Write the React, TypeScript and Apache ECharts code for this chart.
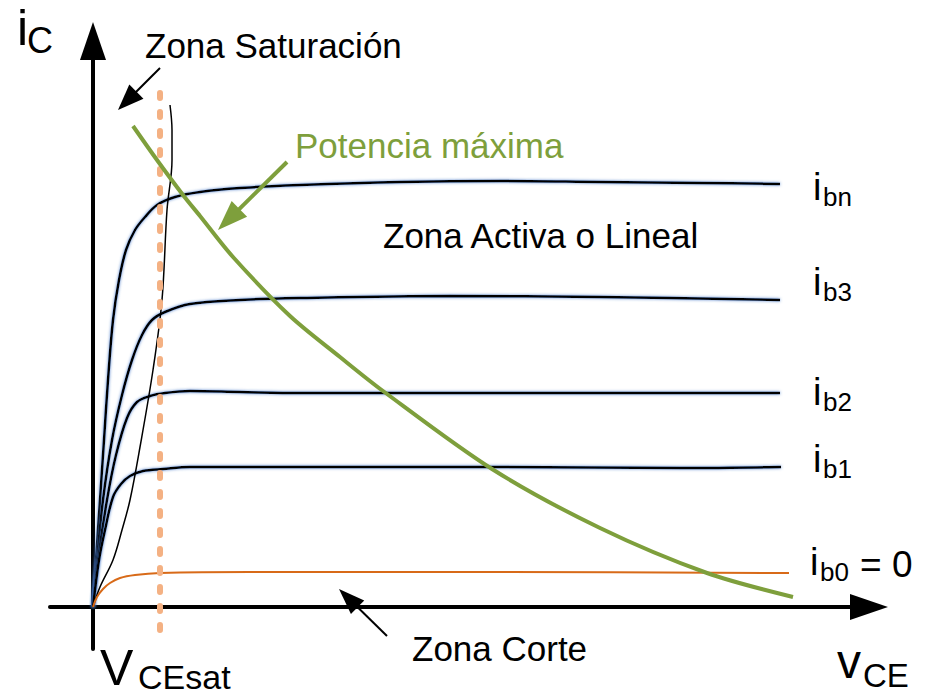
import React, { useEffect, useRef } from "react";
import * as echarts from "echarts";

// Data in arbitrary units (vCE along x, iC along y), origin at the axes' crossing
const ibn = [[0,0],[3,47],[7,107],[11,167],[15,227],[20,287],[26,327],[33,357],[42,377],[52,390],[64,402],[82,410],[107,415],[147,419],[207,422],[307,425],[407,426],[507,425],[607,424],[687,423]];
const ib3 = [[0,0],[4,47],[10,107],[19,167],[29,212],[39,247],[49,272],[59,287],[72,295],[97,303],[147,307],[207,309],[357,311],[507,310],[687,307]];
const ib2 = [[0,0],[5,47],[14,107],[23,152],[34,189],[44,205],[57,211],[72,214],[97,216],[147,215],[207,214],[407,214],[687,214]];
const ib1 = [[0,0],[6,47],[12,77],[20,110],[28,123],[37,131],[50,136],[70,138],[97,140],[207,140],[407,140],[587,139],[688,140]];
const ib0 = [[0,0],[4,10],[10,18],[17,24],[27,29],[42,32],[67,34],[157,35],[407,35],[696,34]];
const satLimit = [[0,0],[7,20],[20,47],[29,77],[37,107],[47,160],[60,237],[69,307],[74,397],[79,447],[79,477],[77,502]];
const maxPower = [[40,481],[64,447],[90,412],[107,391],[140,350],[197,291],[247,250],[290,216],[399,138],[507,79],[614,34],[700,10]];
const vceSat = 67;
const vceSatSpan = [-23, 525];
const xRange = [-43, 776];
const yRange = [-42, 566];

const FONT = "'Liberation Sans', Arial, Helvetica, sans-serif";
const GREEN = "#7E9F3C";

function txt(text: string, x: number, baseline: number, size: number, color = "#000") {
  return {
    type: "text",
    x,
    y: baseline - size * 0.35,
    z: 100,
    style: {
      text,
      x: 0,
      y: 0,
      fill: color,
      fontSize: size,
      lineHeight: size,
      fontFamily: FONT,
      align: "left",
      textAlign: "left",
      verticalAlign: "middle",
      textVerticalAlign: "middle",
    },
  };
}

function arrow(x1: number, y1: number, x2: number, y2: number, len: number, w: number, color: string, lw: number) {
  const dx = x2 - x1, dy = y2 - y1;
  const d = Math.hypot(dx, dy);
  const ux = dx / d, uy = dy / d;
  const bx = x2 - ux * len, by = y2 - uy * len;
  const px = -uy, py = ux;
  return [
    { type: "line", z: 100, shape: { x1, y1, x2: bx + ux * 2, y2: by + uy * 2 }, style: { stroke: color, lineWidth: lw } },
    {
      type: "polygon",
      z: 100,
      shape: { points: [[x2, y2], [bx + (px * w) / 2, by + (py * w) / 2], [bx - (px * w) / 2, by - (py * w) / 2]] },
      style: { fill: color },
    },
  ];
}

function curve(name: string, data: number[][], color: string, width: number, glow: boolean, z: number, smooth = 0.35) {
  return {
    type: "line",
    name,
    data,
    smooth,
    symbol: "none",
    z,
    lineStyle: glow
      ? { color, width, shadowColor: "rgba(70,120,200,0.9)", shadowBlur: 3 }
      : { color, width },
  };
}

export default function App() {
  const ref = useRef<HTMLDivElement>(null);
  useEffect(() => {
    if (!ref.current) return;
    const chart = echarts.init(ref.current, null, { renderer: "svg" });
    const axisCommon = {
      type: "value",
      axisTick: { show: false },
      axisLabel: { show: false },
      splitLine: { show: false },
    };
    chart.setOption({
      animation: false,
      backgroundColor: "#fff",
      grid: { left: 50, right: 59, top: 41, bottom: 48 },
      xAxis: {
        ...axisCommon,
        min: xRange[0],
        max: xRange[1],
        axisLine: { show: true, onZero: true, symbol: ["none", "triangle"], symbolSize: [26, 38], lineStyle: { color: "#000", width: 4 } },
      },
      yAxis: {
        ...axisCommon,
        min: yRange[0],
        max: yRange[1],
        axisLine: { show: true, onZero: true, symbol: ["none", "triangle"], symbolSize: [26, 38], lineStyle: { color: "#000", width: 4 } },
      },
      series: [
        curve("ibn", ibn, "#000", 2.5, true, 3),
        curve("ib3", ib3, "#000", 2.5, true, 3),
        curve("ib2", ib2, "#000", 2.5, true, 3),
        curve("ib1", ib1, "#000", 2.5, true, 3),
        curve("sat", satLimit, "#000", 1.5, false, 4),
        curve("ib0", ib0, "#D86A18", 2, false, 4),
        {
          type: "line",
          name: "VCEsat",
          data: [[vceSat, vceSatSpan[0]], [vceSat, vceSatSpan[1]]],
          symbol: "none",
          z: 5,
          lineStyle: { color: "#F4B183", width: 6, type: [5, 14], cap: "round" },
        },
        curve("pmax", maxPower, GREEN, 4, false, 6, 0.3),
      ],
      graphic: [
        txt("i", 17, 45, 50),
        txt("C", 27, 53, 36),
        txt("Zona Saturación", 145, 58, 35),
        txt("Potencia máxima", 295, 158, 35, GREEN),
        txt("Zona Activa o Lineal", 383, 248, 35),
        txt("Zona Corte", 412, 661, 35),
        txt("V", 100, 685, 50),
        txt("CEsat", 138, 689, 34),
        txt("v", 837, 678, 48),
        txt("CE", 863, 687, 33),
        txt("i", 813, 200, 38), txt("bn", 823, 206, 26),
        txt("i", 813, 295, 38), txt("b3", 823, 301, 26),
        txt("i", 813, 405, 38), txt("b2", 823, 411, 26),
        txt("i", 813, 472, 38), txt("b1", 823, 478, 26),
        txt("i", 810, 575, 38), txt("b0", 820, 581, 26), txt("= 0", 860, 577, 37),
        ...arrow(160, 68, 118, 110, 26, 20, "#000", 2),
        ...arrow(287, 162, 218, 230, 30, 22, GREEN, 4),
        ...arrow(387, 636, 339, 589, 26, 19, "#000", 2),
      ],
    });
    return () => chart.dispose();
  }, []);
  return <div ref={ref} style={{ position: "fixed", left: 0, top: 0, width: 928, height: 697 }} />;
}
